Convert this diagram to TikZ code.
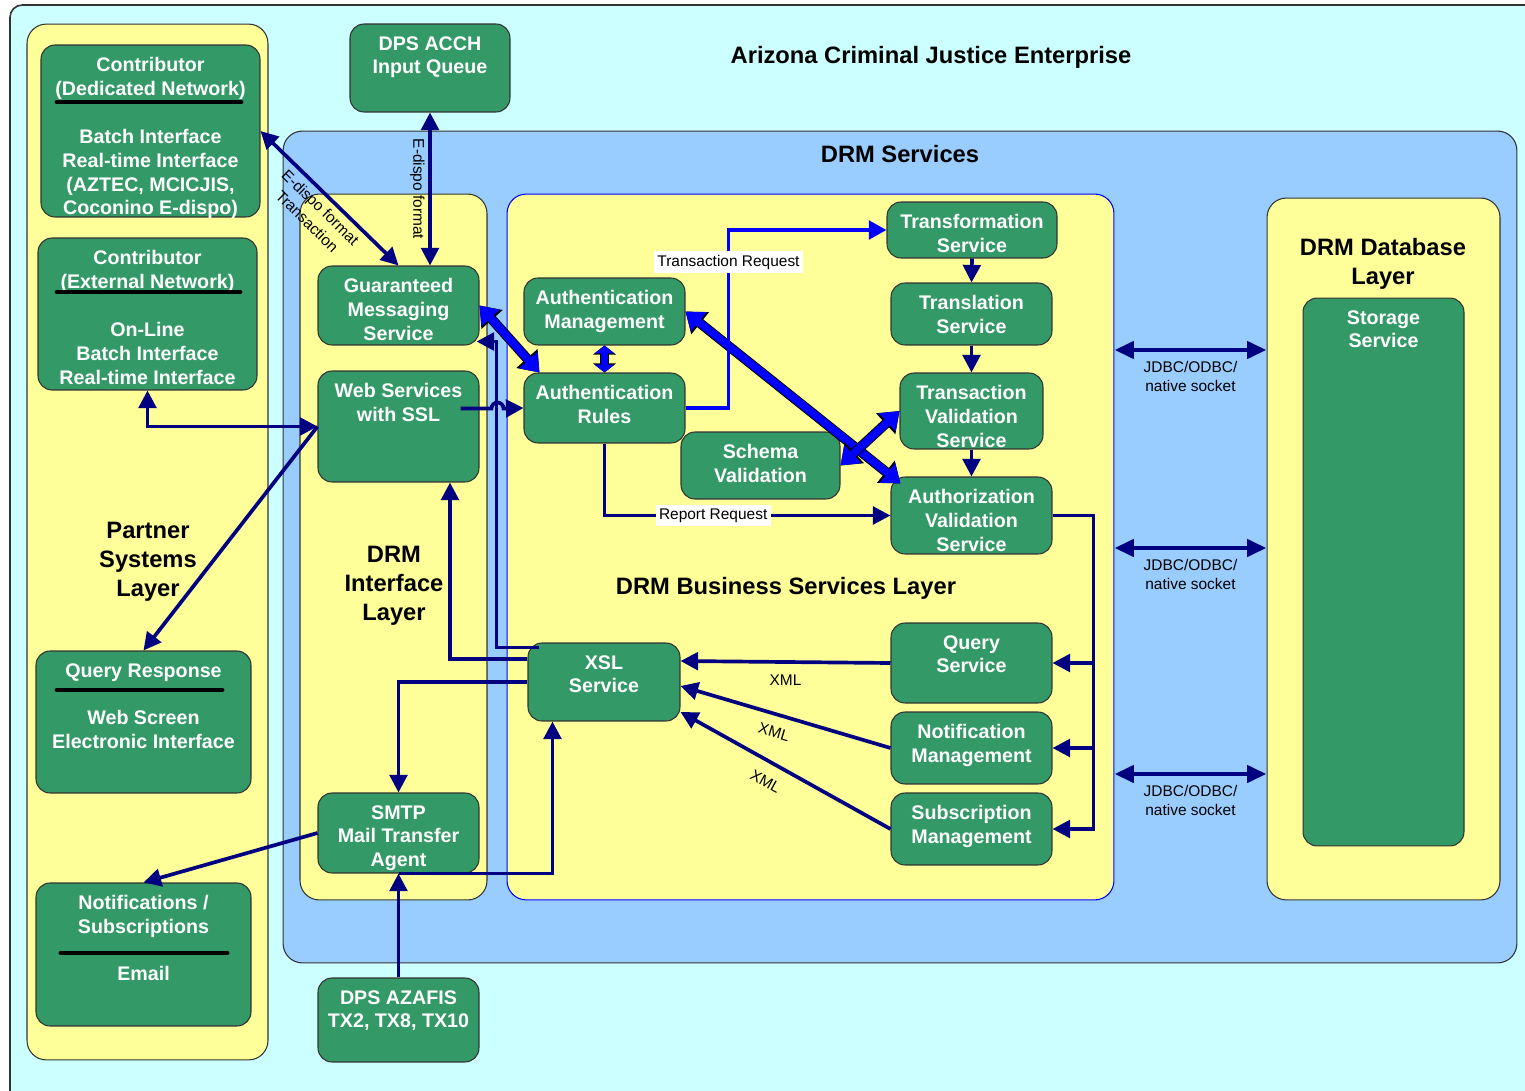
\documentclass[tikz,border=0pt]{standalone}
\usepackage{fontspec}
\setmainfont{Liberation Sans}
\usetikzlibrary{arrows.meta,calc,positioning}

\definecolor{bgcyan}{HTML}{CCFFFF}
\definecolor{svcblue}{HTML}{99CCFF}
\definecolor{layeryellow}{HTML}{FFFF99}
\definecolor{boxgreen}{HTML}{339966}
\definecolor{navyc}{HTML}{000080}
\definecolor{brightblue}{HTML}{0000FF}

% text of a green box, set from its top
\newcommand{\boxtext}[3]{\parbox[c][#2][t]{#1}{\centering\vspace*{7pt}#3}}

\begin{document}
\begin{tikzpicture}[x=0.02cm,y=-0.02cm,
    layer/.style={draw=black!80, fill=layeryellow, rounded corners=11pt, inner sep=0pt, line width=0.6pt},
    gbox/.style={draw=black!80, fill=boxgreen, rounded corners=8pt, inner sep=0pt, line width=0.6pt,
      text=white, font=\bfseries\fontsize{11.2}{13.6}\selectfont},
    headfont/.style={font=\bfseries\fontsize{13.5}{16.4}\selectfont, align=center},
    lbl/.style={font=\fontsize{8.8}{11}\selectfont, inner sep=2pt},
    rulebar/.style={line width=2.8pt, line cap=round, draw=black},
    ntip/.tip={Triangle[width=10pt,length=10pt]},
    btip/.tip={Triangle[width=10.5pt,length=10pt]},
    jtip/.tip={Triangle[width=9.5pt,length=11pt]},
    ftip/.tip={Triangle[width=13.5pt,length=9.5pt]},
    fotip/.tip={Triangle[width=15.5pt,length=10.7pt]},
    stip/.tip={Triangle[width=11pt,length=4.5pt]},
    sotip/.tip={Triangle[width=13pt,length=5.2pt]},
    navy/.style={draw=navyc, line width=2.1pt},
    req/.style={draw=brightblue, line width=2.1pt},
    jdbc/.style={draw=navyc, line width=2.8pt, jtip-jtip},
    fat/.style={draw=brightblue, line width=4.5pt, ftip-ftip,
      preaction={draw=black, line width=5.6pt, fotip-fotip}},
    fatshort/.style={draw=brightblue, line width=4.5pt, stip-stip,
      preaction={draw=black, line width=5.6pt, sotip-sotip}}]

  \useasboundingbox (0,0) rectangle (1525,1091);
  \clip (0,0) rectangle (1525,1091);

  % enterprise and the big containers
  \draw[draw=black!80, fill=bgcyan, line width=0.9pt, rounded corners=7pt] (10,5) rectangle (1600,1150);
  \node[layer, minimum width=4.82cm, minimum height=20.72cm] (partner) at (147.5,542) {};
  \node[layer, fill=svcblue, minimum width=24.68cm, minimum height=16.64cm] (services) at (900,547) {};
  \node[layer, minimum width=3.74cm, minimum height=14.12cm] (iface) at (393.5,547) {};
  \node[layer, draw=brightblue, minimum width=12.14cm, minimum height=14.12cm] (business) at (810.5,547) {};
  \node[layer, minimum width=4.66cm, minimum height=14.04cm] (database) at (1383.5,549) {};

  \node[headfont] (acje) at (931,57) {Arizona Criminal Justice Enterprise};
  \node[headfont] (drmsvc) at (900,154) {DRM Services};
  \node[headfont] (partnert) at (148,562) {Partner\\Systems\\Layer};
  \node[headfont] (ifacet) at (394,586) {DRM\\Interface\\Layer};
  \node[headfont] (businesst) at (786,588) {DRM Business Services Layer};
  \node[headfont] (databaset) at (1383,264) {DRM Database\\Layer};

  % partner systems
  \node[gbox] (ded) at (150.5,131) {\boxtext{4.38cm}{3.44cm}{Contributor\\(Dedicated Network)\\[13.6pt]Batch Interface\\Real-time Interface\\(AZTEC, MCICJIS,\\Coconino E-dispo)}};
  \node[gbox] (ext) at (147.5,314) {\boxtext{4.38cm}{3.04cm}{Contributor\\(External Network)\\[14pt]On-Line\\Batch Interface\\Real-time Interface}};
  \node[gbox] (qresp) at (143.5,722) {\boxtext{4.30cm}{2.84cm}{Query Response\\[13.6pt]Web Screen\\Electronic Interface}};
  \node[gbox] (notsub) at (143.5,954.5) {\boxtext{4.30cm}{2.86cm}{Notifications /\\Subscriptions\\[13pt]Email}};
  \draw[rulebar] (57,102) -- (241,102);
  \draw[rulebar] (57,292) -- (240,292);
  \draw[rulebar] (57,690) -- (222,690);
  \draw[rulebar] (61,953) -- (227,953);

  \node[gbox] (acch) at (430,68) {\boxtext{3.20cm}{1.76cm}{DPS ACCH\\Input Queue}};
  \node[gbox] (azafis) at (398.5,1020) {\boxtext{3.22cm}{1.68cm}{DPS AZAFIS\\TX2, TX8, TX10}};

  % interface layer
  \node[gbox] (gms) at (398.5,305.5) {\boxtext{3.22cm}{1.58cm}{Guaranteed\\Messaging\\Service}};
  \node[gbox] (web) at (398.5,426.5) {\boxtext{3.22cm}{2.22cm}{Web Services\\with SSL}};
  \node[gbox] (smtp) at (398.5,833) {\boxtext{3.22cm}{1.60cm}{SMTP\\Mail Transfer\\Agent}};

  % business services layer
  \node[gbox] (amgmt) at (604.5,311.5) {\boxtext{3.22cm}{1.34cm}{Authentication\\Management}};
  \node[gbox] (arules) at (604.5,408) {\boxtext{3.22cm}{1.40cm}{Authentication\\Rules}};
  \node[gbox] (schema) at (760.5,465.5) {\boxtext{3.18cm}{1.34cm}{Schema\\Validation}};
  \node[gbox] (transf) at (972,230) {\boxtext{3.40cm}{1.12cm}{Transformation\\Service}};
  \node[gbox] (transl) at (971.5,314) {\boxtext{3.22cm}{1.24cm}{Translation\\Service}};
  \node[gbox] (tval) at (971.5,411) {\boxtext{2.86cm}{1.52cm}{Transaction\\Validation\\Service}};
  \node[gbox] (authz) at (971.5,515.5) {\boxtext{3.22cm}{1.54cm}{Authorization\\Validation\\Service}};
  \node[gbox] (xsl) at (604,682) {\boxtext{3.04cm}{1.56cm}{XSL\\Service}};
  \node[gbox] (query) at (971.5,663) {\boxtext{3.22cm}{1.60cm}{Query\\Service}};
  \node[gbox] (notif) at (971.5,748) {\boxtext{3.22cm}{1.44cm}{Notification\\Management}};
  \node[gbox] (subs) at (971.5,829) {\boxtext{3.22cm}{1.44cm}{Subscription\\Management}};

  % database layer
  \node[gbox] (storage) at (1383.5,572) {\boxtext{3.22cm}{10.96cm}{Storage\\Service}};

  % links to the partners
  \draw[navy, ntip-ntip] (ded.east) -- node[sloped, below=1pt, lbl, align=center] (edispo1) {E-dispo format\\Transaction} (gms.north);
  \draw[navy, ntip-ntip] (acch.south) -- node[sloped, below, lbl] (edispo2) {E-dispo format} (acch.south |- gms.north);
  \draw[navy, ntip-ntip] (ext.south) |- (web.west);
  \draw[navy, -ntip] (web.west) -- (qresp.north);
  \draw[navy, -ntip] (smtp.west) -- (notsub.north);
  \draw[navy, -ntip] (azafis.north) -- (smtp.south);

  % xsl back to the interface layer
  \draw[navy, -ntip] (smtp.south) -| ($(xsl.south west)+(25,0)$);
  \draw[navy, -ntip] (xsl.west) -| (smtp.north);
  \draw[navy, -ntip] ($(xsl.west)+(0,-23)$) -| ($(web.south)+(51.5,0)$);
  \draw[navy, -ntip] ($(xsl.north west)+(12,5)$) -- ++(-43,0) |- ($(gms.south east)+(-3,-4)$);
  \draw[navy, -ntip] ($(web.east)+(-19,-18)$) -- ++(31,0) arc (180:360:6) -- (arules.west);

  % authentication
  \draw[fat] (gms.east) -- ($(arules.north west)+(16,0)$);
  \draw[fatshort] (amgmt.south) -- (arules.north);
  \draw[fat] (amgmt.east) -- ($(authz.north west)+(10,7)$);
  \draw[fat] (schema.east) -- (tval.west);

  \draw[req, -btip] (arules.east) -- ++(43,0) |- node[pos=0.41, lbl, fill=white] (treq) {Transaction Request} (transf.west);
  \draw[navy, -ntip] (arules.south) |- node[pos=0.69, lbl, fill=white] (rreq) {Report Request} (authz.west);

  \draw[navy, -ntip] (transf.south) -- (transl.north);
  \draw[navy, -ntip] (transl.south) -- (tval.north);
  \draw[navy, -ntip] (tval.south) -- (authz.north);

  \draw[navy, -ntip] (authz.east) -- ++(41,0) coordinate (fan) |- (subs.east);
  \draw[navy, -ntip] (fan |- query.east) -- (query.east);
  \draw[navy, -ntip] (fan |- notif.east) -- (notif.east);

  \draw[navy, ntip-] ($(xsl.east)+(0,-21)$) -- node[below=4pt, lbl] (xml1) {XML} (query.west);
  \draw[navy, ntip-] ($(xsl.east)+(0,4)$) -- node[sloped, below=4pt, lbl, pos=0.47] (xml2) {XML} (notif.west);
  \draw[navy, ntip-] ($(xsl.east)+(0,30)$) -- node[sloped, below=5pt, lbl, pos=0.45] (xml3) {XML} (subs.west);

  % database access
  \foreach \yy [count=\i] in {350,548,774}
    \draw[jdbc] (business.east |- 0,\yy) -- node[below=3pt, lbl, align=center] (jdbc\i) {JDBC/ODBC/\\native socket} (database.west |- 0,\yy);
\end{tikzpicture}
\end{document}
